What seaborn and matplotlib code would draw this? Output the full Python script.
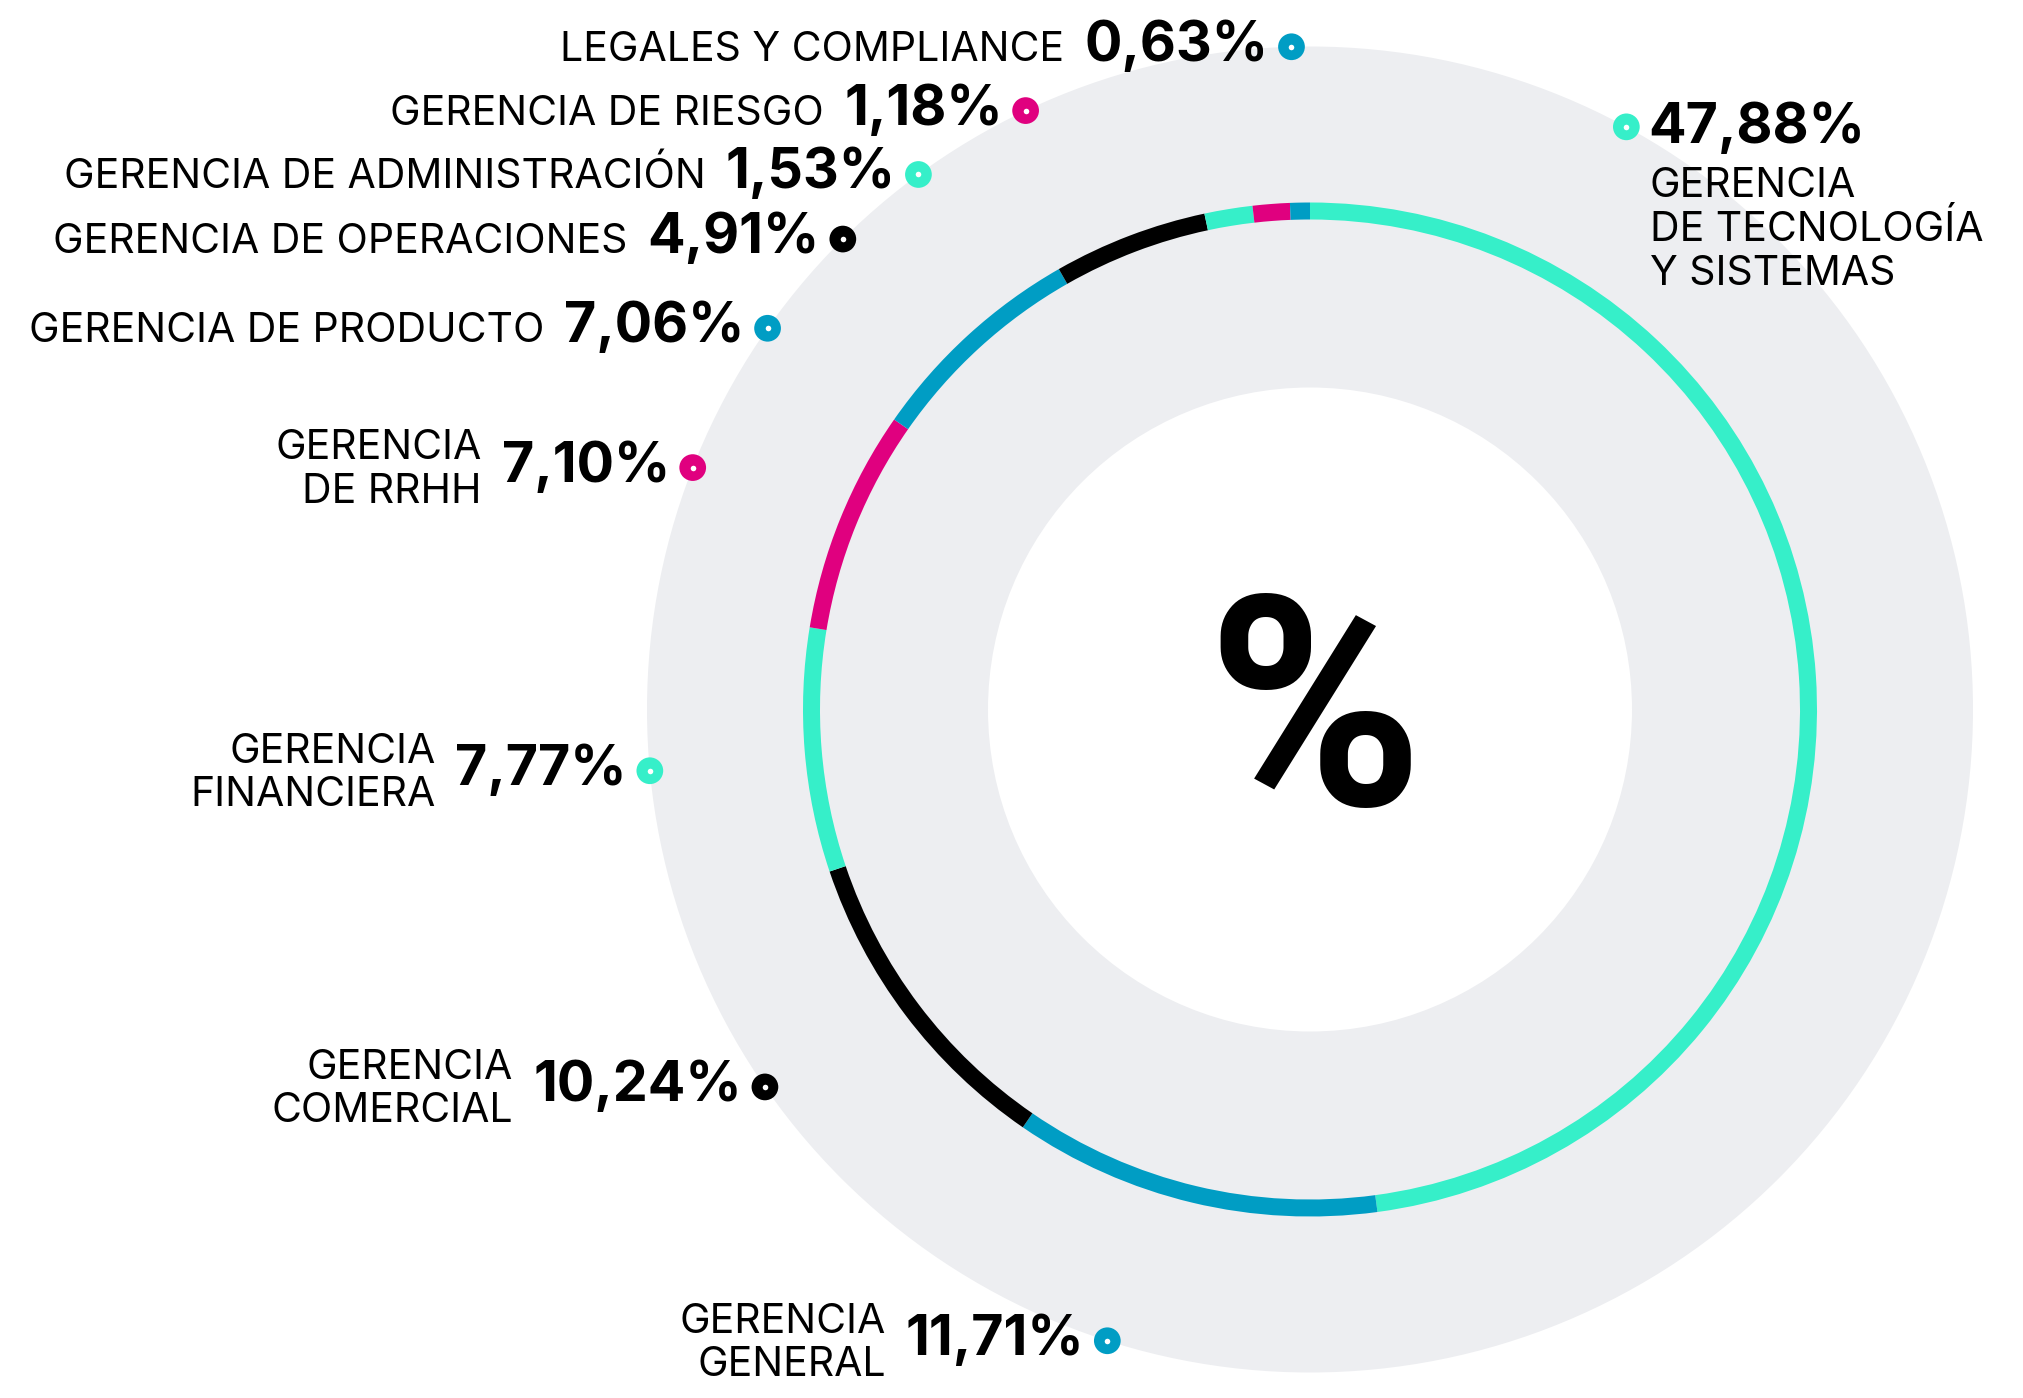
import numpy as np
import pandas as pd
import matplotlib
matplotlib.use("Agg")
import matplotlib.pyplot as plt
from matplotlib.patches import Circle
import seaborn as sns

# Headcount share by department, listed clockwise from 12 o'clock
departments = [
    "GERENCIA\nDE TECNOLOGÍA\nY SISTEMAS",
    "GERENCIA\nGENERAL",
    "GERENCIA\nCOMERCIAL",
    "GERENCIA\nFINANCIERA",
    "GERENCIA\nDE RRHH",
    "GERENCIA DE PRODUCTO",
    "GERENCIA DE OPERACIONES",
    "GERENCIA DE ADMINISTRACIÓN",
    "GERENCIA DE RIESGO",
    "LEGALES Y COMPLIANCE",
]
shares = [47.88, 11.71, 10.24, 7.77, 7.10, 7.06, 4.91, 1.53, 1.18, 0.63]

TEAL, BLUE, PINK, BLACK = "#36EFC9", "#009DC4", "#E0007F", "#000000"
segment_colors = [TEAL, BLUE, BLACK, TEAL, PINK, BLUE, BLACK, TEAL, PINK, BLUE]

# Where each label's marker sits on the rim of the grey disc (degrees, CCW from +x)
label_angles = [61.5, 252.2, 214.7, 185.3, 158.6, 144.9, 134.8, 126.2, 115.4, 91.6]

GREY = "#EDEEF1"
W, H, DPI = 2024, 1398, 100
CX, CY = 1310, H - 709.5
R_DISC, R_HOLE, R_RING, RING_W = 663, 322, 507, 17

sns.set_theme(style="white")
plt.rcParams["font.family"] = ["Inter", "DejaVu Sans"]

fig = plt.figure(figsize=(W / DPI, H / DPI), dpi=DPI)
ax = fig.add_axes([0, 0, 1, 1])

ax.add_patch(Circle((CX, CY), R_DISC, color=GREY, lw=0, zorder=0))
ax.add_patch(Circle((CX, CY), R_HOLE, color="white", lw=0, zorder=1))

ax.pie(shares, colors=segment_colors, startangle=90, counterclock=False,
       radius=R_RING, center=(CX, CY), frame=True,
       wedgeprops=dict(width=RING_W, linewidth=0, zorder=2))

ax.set_xlim(0, W)
ax.set_ylim(0, H)
ax.set_aspect("equal")
ax.axis("off")

# Label markers: coloured dot with a small white centre
theta = np.deg2rad(label_angles)
markers = pd.DataFrame({
    "x": CX + R_DISC * np.cos(theta),
    "y": CY + R_DISC * np.sin(theta),
    "dept": departments,
})
sns.scatterplot(data=markers, x="x", y="y", hue="dept",
                palette=dict(zip(departments, segment_colors)),
                s=370, linewidth=0, legend=False, ax=ax, zorder=5)
sns.scatterplot(data=markers, x="x", y="y", color="white",
                s=16, linewidth=0, legend=False, ax=ax, zorder=6)

PT = 72 / DPI              # points per pixel
NAME_FS, PCT_FS = 29.5, 40
HALF_CAP_PX = 14           # half cap-height of the department names
LINE_PX = 42.6             # distance between name baselines

for (_, row), share in zip(markers.iterrows(), shares):
    pct_txt = f"{share:.2f}%".replace(".", ",")
    right_side = row.x > CX
    n = row.dept.count("\n") + 1
    if right_side:
        pct = ax.annotate(pct_txt, xy=(row.x, row.y), xycoords="data",
                          xytext=(15.5, -16 * PT), textcoords="offset points",
                          ha="left", va="baseline",
                          fontsize=PCT_FS, fontweight="bold", color="black", zorder=7)
        # name sits under the value; last line baseline set below the marker
        ax.annotate(row.dept, xy=(0, row.y), xycoords=(pct, "data"),
                    xytext=(1.5, -158 * PT), textcoords="offset points",
                    ha="left", va="baseline", ma="left", linespacing=1.18,
                    fontsize=NAME_FS, color="black", zorder=7)
    else:
        pct = ax.annotate(pct_txt, xy=(row.x, row.y), xycoords="data",
                          xytext=(-16.5, -HALF_CAP_PX * PT), textcoords="offset points",
                          ha="right", va="baseline",
                          fontsize=PCT_FS, fontweight="bold", color="black", zorder=7)
        # name block centred on the marker (va=baseline refers to its last line)
        dy = -((n - 1) * LINE_PX / 2 + HALF_CAP_PX) * PT
        ax.annotate(row.dept, xy=(0, row.y), xycoords=(pct, "data"),
                    xytext=(-14.5, dy), textcoords="offset points",
                    ha="right", va="baseline", ma="right", linespacing=1.18,
                    fontsize=NAME_FS, color="black", zorder=7)

# Big percent sign in the hole
PCT_BIG = 211
ax.annotate("%", xy=(CX, CY), xycoords="data",
            xytext=(3, -96 * PT), textcoords="offset points",
            ha="center", va="baseline", fontsize=PCT_BIG, fontweight="bold",
            family=["Roboto", "DejaVu Sans"], color="black", zorder=7)

fig.savefig("out.png", dpi=DPI, facecolor="white")
